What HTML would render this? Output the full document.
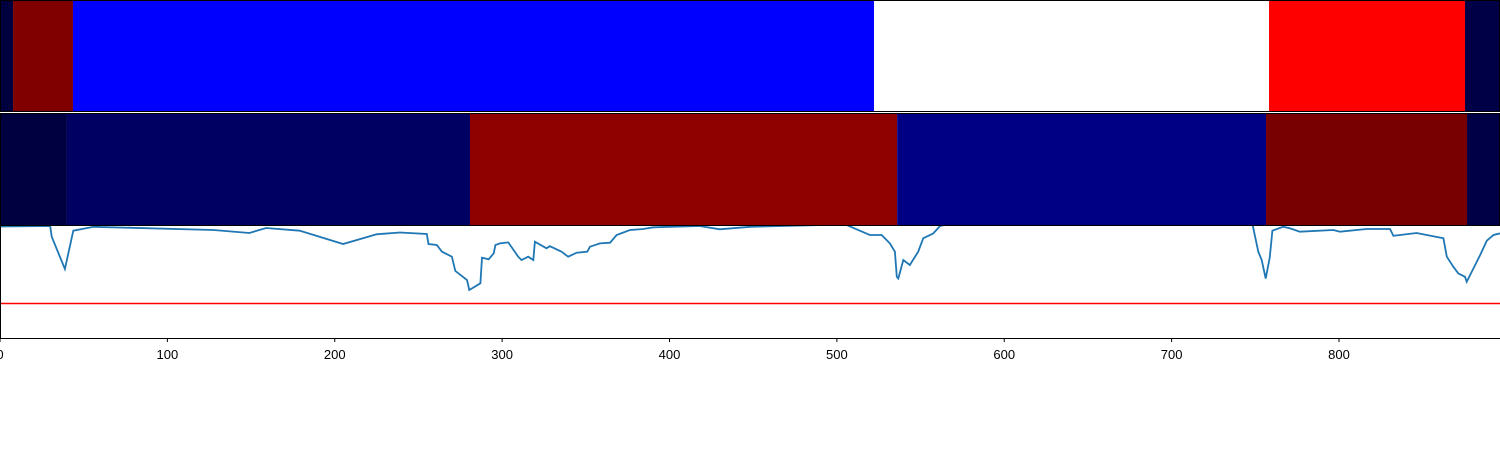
<!DOCTYPE html>
<html><head><meta charset="utf-8"><style>
html,body{margin:0;padding:0;background:#fff;width:1500px;height:450px;overflow:hidden}
svg{display:block;font-family:"Liberation Sans","DejaVu Sans",sans-serif}
</style></head><body>
<svg id="chart" width="1500" height="450" viewBox="0 0 1500 450" xmlns="http://www.w3.org/2000/svg">
<g id="row1"></g>
<g id="row2"></g>
<g id="lineg"></g>
<g id="axis"></g>
</svg>
<script>
const row1Bounds = [0, 7.8, 43.6, 522.2, 758.2, 875.3, 896.2];
const row1Colors = ["#00003f", "#800000", "#0000ff", "#ffffff", "#ff0000", "#000046"];
const row2Bounds = [0, 40, 280.8, 536, 756.4, 876.5, 896.2];
const row2Colors = ["#000040", "#000062", "#8f0000", "#000085", "#780000", "#000046"];
const seriesX = [0,30,30.9,38.8,43.8,56,127.5,149,159,179,205,225,239,255,256,261,264,270,272,279,280.4,287,288,292,295,296,298.7,303.7,309.6,311.6,315.6,318.6,319.6,326.5,328.5,335.5,339.5,344.5,350.9,352.5,358.5,364.5,368.4,376.4,384.3,390.3,418,430,448,505,511.8,519.7,526.7,529.7,531.7,534.7,535.8,536.7,539.7,543.6,548.6,551.6,557.6,561.6,567.6,600,700,748,751.8,753.8,756.2,758.6,760.2,766.6,770.6,776.6,796.6,800.6,816.5,830.5,832.5,846.4,862.4,864.4,868.3,871.3,875.3,876.3,880.3,884.3,888.3,892.3,896.2];
const seriesY = [0.994,1.0,0.862,0.445,0.939,0.990,0.948,0.910,0.974,0.940,0.768,0.893,0.916,0.897,0.768,0.755,0.668,0.604,0.420,0.303,0.174,0.261,0.591,0.570,0.649,0.755,0.776,0.789,0.604,0.561,0.604,0.561,0.798,0.712,0.740,0.668,0.604,0.656,0.668,0.733,0.776,0.785,0.884,0.949,0.961,0.983,1.0,0.957,0.99,1.02,0.957,0.884,0.884,0.819,0.776,0.668,0.344,0.323,0.561,0.497,0.668,0.841,0.905,1.0,1.03,1.08,1.08,1.05,0.668,0.561,0.323,0.590,0.939,0.990,0.970,0.927,0.949,0.927,0.961,0.961,0.873,0.910,0.841,0.604,0.475,0.389,0.344,0.280,0.452,0.624,0.810,0.884,0.905];
const thresholdValue = 0;
const tickValues = [0,100,200,300,400,500,600,700,800];
const tickLabels = ["0","100","200","300","400","500","600","700","800"];

const NS = "http://www.w3.org/2000/svg";
const xMax = 896.2;
function xs(v){ return v / xMax * 1500; }
function ys(v){ return 303.5 - v * 77.5; }
function mk(tag, attrs, parent){ const e = document.createElementNS(NS, tag); for (const k in attrs) e.setAttribute(k, attrs[k]); parent.appendChild(e); return e; }

function drawRow(g, bounds, colors, y0, h){
  for (let i = 0; i < colors.length; i++){
    const r = mk("rect", {x: xs(bounds[i]), y: y0, width: xs(bounds[i+1]) - xs(bounds[i]), height: h, fill: colors[i]}, g);
    
    
  }
  const f = mk("rect", {x: 0.5, y: y0 + 0.5, width: 1499, height: h - 1, fill: "none", stroke: "#000", "stroke-width": 1}, g);
  
  
}
drawRow(document.getElementById("row1"), row1Bounds, row1Colors, 0, 112);
drawRow(document.getElementById("row2"), row2Bounds, row2Colors, 113, 113);
const sep = mk("line", {x1: 0, x2: 1500, y1: 111.5, y2: 111.5, stroke: "#000", "stroke-width": 1}, document.getElementById("row1"));



const lg = document.getElementById("lineg");
mk("defs", {}, lg).innerHTML = '<clipPath id="cp"><rect x="0" y="226" width="1500" height="112"/></clipPath>';
const th = mk("line", {x1: 0, x2: 1500, y1: ys(thresholdValue), y2: ys(thresholdValue), stroke: "#ff0000", "stroke-width": 1.5}, lg);


let d = "";
for (let i = 0; i < seriesX.length; i++) d += (i ? "L" : "M") + xs(seriesX[i]).toFixed(1) + "," + ys(seriesY[i]).toFixed(1);
const p = mk("path", {d: d, fill: "none", stroke: "#1f77b4", "stroke-width": 1.8, "clip-path": "url(#cp)"}, lg);


const lb = mk("line", {x1: 0.5, x2: 0.5, y1: 226, y2: 338, stroke: "#000", "stroke-width": 1}, lg);



const ax = document.getElementById("axis");
const al = mk("line", {x1: 0, x2: 1500, y1: 338.5, y2: 338.5, stroke: "#000", "stroke-width": 1}, ax);


for (let i = 0; i < tickValues.length; i++){
  const x = xs(tickValues[i]);
  const t = mk("line", {x1: x, x2: x, y1: 338.5, y2: 342, stroke: "#000", "stroke-width": 1}, ax);
  
  
  const tx = mk("text", {x: x, y: 359, "text-anchor": "middle", "font-size": 13, fill: "#000"}, ax);
  tx.textContent = tickLabels[i];
  
  
}
</script>
</body></html>
